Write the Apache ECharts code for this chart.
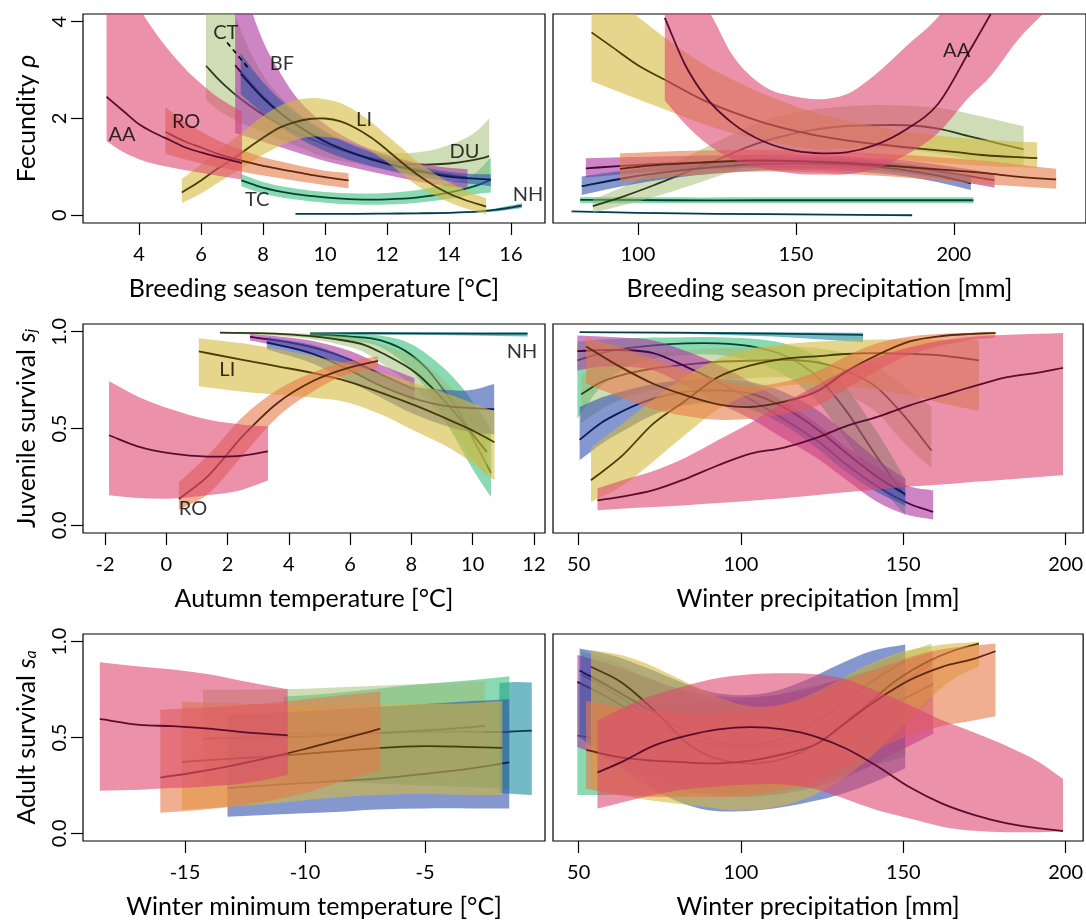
<!DOCTYPE html>
<html>
<head>
<meta charset="utf-8">
<title>Vital rates vs climate</title>
<script src="https://cdn.jsdelivr.net/npm/echarts@6/dist/echarts.min.js"></script>
<style>
  html, body { margin: 0; padding: 0; background: #ffffff; }
  #chart { width: 1086px; height: 920px; }
</style>
</head>
<body>
<div id="chart"></div>
<script>
// Each row: [covariate value, posterior mean, lower bound, upper bound]

// ---- Fecundity vs breeding season temperature ----
const btTicks = [4, 6, 8, 10, 12, 14, 16];
const btAA = [[2.95,2.45,1.53,6.0],[3.5,2.15,1.3,5.0],[4.0,1.88,1.16,4.3],[4.5,1.7,1.06,3.8],[5.0,1.55,0.99,3.38],[5.5,1.4,0.93,3.02],[6.0,1.3,0.88,2.72],[6.5,1.21,0.82,2.46],[7.0,1.13,0.77,2.26],[7.32,1.08,0.74,2.14]];
const btRO = [[4.85,1.72,1.27,2.23],[5.5,1.52,1.15,1.92],[6.0,1.4,1.07,1.73],[6.5,1.28,1.0,1.56],[7.0,1.18,0.94,1.42],[7.5,1.1,0.88,1.31],[8.0,1.02,0.82,1.2],[8.5,0.96,0.77,1.12],[9.0,0.9,0.72,1.05],[9.5,0.84,0.67,0.98],[10.0,0.79,0.62,0.92],[10.76,0.72,0.56,0.87]];
const btCT = [[7.28,2.92,2.5,3.35],[8,2.42,2.1,2.75],[9,1.9,1.65,2.15],[10,1.52,1.33,1.72],[11,1.26,1.1,1.42],[12,1.06,0.93,1.2],[13,0.91,0.8,1.02],[14,0.8,0.7,0.9],[15,0.75,0.63,0.85],[15.35,0.74,0.6,0.85]];
const btBF = [[7.1,3.1,1.7,5.5],[7.5,2.8,1.62,4.5],[8,2.45,1.52,3.6],[8.5,2.15,1.42,3.0],[9,1.9,1.32,2.5],[9.5,1.7,1.22,2.15],[10,1.53,1.12,1.88],[11,1.27,0.97,1.5],[12,1.08,0.83,1.25],[13,0.94,0.7,1.08],[14,0.83,0.6,0.98],[14.6,0.78,0.56,0.95]];
const btDU = [[6.16,3.09,2.38,6.0],[6.5,2.85,2.2,5.2],[7,2.55,2.0,4.3],[7.5,2.3,1.85,3.5],[8,2.08,1.72,2.9],[9,1.73,1.45,2.2],[10,1.46,1.2,1.75],[11,1.26,1.07,1.45],[12,1.12,0.95,1.3],[13,1.05,0.87,1.3],[14,1.07,0.82,1.45],[15,1.17,0.8,1.8],[15.3,1.22,0.78,2.0]];
const btLI = [[5.38,0.47,0.25,0.75],[6,0.72,0.45,1.05],[6.5,0.95,0.65,1.3],[7,1.15,0.85,1.55],[7.5,1.38,1.05,1.8],[8,1.6,1.25,2.05],[8.5,1.8,1.42,2.25],[9,1.92,1.55,2.37],[9.5,1.99,1.62,2.42],[10,2.0,1.62,2.4],[10.5,1.94,1.58,2.32],[11,1.8,1.48,2.15],[11.5,1.6,1.32,1.92],[12,1.35,1.1,1.65],[12.5,1.08,0.85,1.38],[13,0.83,0.6,1.1],[13.5,0.62,0.42,0.88],[14,0.45,0.27,0.68],[14.5,0.32,0.15,0.52],[15.2,0.18,0.02,0.35]];
const btTC = [[7.3,0.72,0.6,0.85],[8,0.57,0.45,0.69],[9,0.44,0.33,0.56],[10,0.37,0.26,0.48],[11,0.33,0.22,0.45],[12,0.33,0.22,0.46],[13,0.37,0.26,0.52],[14,0.47,0.34,0.66],[15,0.64,0.45,0.95],[15.35,0.73,0.47,1.2]];
const btNH = [[9.05,0.03,0.02,0.04],[10,0.03,0.02,0.04],[11,0.03,0.02,0.04],[12,0.035,0.025,0.045],[13,0.04,0.03,0.05],[14,0.05,0.035,0.065],[15,0.08,0.06,0.1],[15.5,0.11,0.08,0.14],[16,0.16,0.12,0.2],[16.35,0.2,0.15,0.25]];
const btLabels = [[3.45,1.67,'AA'],[5.52,1.94,'RO'],[6.8,3.77,'CT'],[8.61,3.13,'BF'],[11.26,1.98,'LI'],[14.5,1.32,'DU'],[7.81,0.33,'TC'],[16.55,0.43,'NH']];
const btLeader = [[6.84,3.57],[7.53,3.04]];

// ---- Fecundity vs breeding season precipitation ----
const bpTicks = [100, 150, 200];
const bpAA = [[108.5,4.08,2.37,5.0],[115,3.1,1.88,4.6],[122,2.4,1.47,4.25],[130,1.9,1.15,3.3],[140,1.52,0.96,2.66],[150,1.33,0.86,2.45],[158,1.28,0.84,2.4],[166,1.3,0.85,2.5],[175,1.45,0.95,2.9],[185,1.78,1.25,3.5],[195,2.3,1.7,4.1],[205,3.4,2.45,5.0],[212,4.2,2.9,6.0],[220,5.2,3.6,7.0],[232,7.0,4.4,9.0]];
const bpLI = [[85.3,3.78,2.77,4.9],[92,3.47,2.6,4.5],[100,3.1,2.4,4.1],[110,2.75,2.15,3.6],[120,2.4,1.9,3.15],[130,2.13,1.7,2.8],[140,1.91,1.55,2.5],[150,1.74,1.42,2.25],[160,1.61,1.32,2.05],[170,1.51,1.24,1.9],[180,1.44,1.17,1.78],[190,1.37,1.11,1.68],[200,1.31,1.06,1.62],[210,1.24,1.02,1.56],[220,1.2,0.99,1.52],[226.4,1.18,0.98,1.51]];
const bpDU = [[85.7,0.19,0.05,0.33],[95,0.38,0.2,0.58],[105,0.62,0.38,0.88],[115,0.88,0.58,1.2],[125,1.14,0.8,1.52],[135,1.42,1.02,1.82],[145,1.62,1.2,2.05],[155,1.76,1.32,2.18],[165,1.84,1.38,2.25],[175,1.86,1.4,2.28],[185,1.86,1.36,2.27],[195,1.79,1.28,2.22],[205,1.63,1.15,2.1],[215,1.47,1.07,1.95],[222.1,1.36,1.03,1.84]];
const bpRO = [[94.3,0.96,0.68,1.28],[105,1.03,0.76,1.31],[120,1.09,0.84,1.34],[135,1.13,0.9,1.35],[150,1.12,0.9,1.34],[165,1.08,0.86,1.31],[180,1.02,0.8,1.26],[195,0.95,0.72,1.2],[210,0.87,0.64,1.12],[220,0.8,0.6,1.05],[232.4,0.74,0.55,0.96]];
const bpBF = [[83.5,0.97,0.78,1.18],[95,1.02,0.85,1.2],[110,1.07,0.92,1.22],[125,1.1,0.96,1.24],[140,1.12,0.98,1.25],[155,1.12,0.98,1.24],[170,1.09,0.95,1.21],[185,1.0,0.86,1.13],[200,0.86,0.72,1.0],[212.9,0.72,0.57,0.87]];
const bpCT = [[82.2,0.6,0.42,0.8],[95,0.76,0.6,0.92],[110,0.9,0.76,1.04],[125,1.0,0.87,1.13],[140,1.06,0.93,1.18],[155,1.07,0.94,1.19],[170,1.03,0.9,1.16],[185,0.93,0.8,1.06],[195,0.82,0.68,0.96],[205.4,0.66,0.52,0.8]];
const bpTC = [[81.7,0.32,0.25,0.38],[110,0.31,0.25,0.37],[140,0.31,0.25,0.37],[170,0.31,0.25,0.37],[206.2,0.31,0.25,0.37]];
const bpNH = [[79,0.08,0.07,0.09],[100,0.05,0.04,0.06],[125,0.03,0.02,0.04],[150,0.02,0.01,0.03],[170,0.01,0.0,0.02],[186.8,0.0,-0.01,0.01]];
const bpLabels = [[200.9,3.4,'AA']];

// ---- Juvenile survival vs autumn temperature ----
const atTicks = [-2, 0, 2, 4, 6, 8, 10, 12];
const atAA = [[-1.87,0.465,0.155,0.744],[-0.94,0.408,0.141,0.666],[0.21,0.37,0.138,0.597],[1.35,0.355,0.155,0.546],[2.49,0.36,0.184,0.52],[3.32,0.382,0.231,0.511]];
const atRO = [[0.41,0.136,0.08,0.222],[1.35,0.253,0.16,0.36],[2.49,0.46,0.36,0.56],[3.63,0.632,0.56,0.7],[4.77,0.744,0.69,0.79],[5.91,0.812,0.78,0.845],[6.91,0.85,0.81,0.873]];
const atLI = [[1.06,0.898,0.718,0.967],[2.49,0.855,0.69,0.94],[3.63,0.821,0.675,0.91],[4.77,0.787,0.66,0.875],[5.91,0.744,0.635,0.835],[7.05,0.683,0.57,0.785],[8.2,0.614,0.48,0.73],[9.34,0.537,0.39,0.67],[10.0,0.49,0.32,0.63],[10.71,0.429,0.232,0.59]];
const atNH = [[4.69,0.992,0.988,0.995],[8,0.992,0.985,0.996],[11.79,0.99,0.976,0.998]];
const atTC = [[4.7,0.985,0.97,0.995],[6,0.975,0.955,0.99],[7,0.955,0.92,0.98],[8,0.88,0.8,0.935],[8.5,0.81,0.7,0.885],[9,0.71,0.57,0.82],[9.5,0.6,0.43,0.74],[10,0.45,0.29,0.64],[10.6,0.27,0.145,0.5]];
const atDU = [[1.75,0.995,0.99,0.998],[3.5,0.99,0.98,0.996],[5.46,0.963,0.94,0.98],[6.5,0.93,0.89,0.96],[7.09,0.886,0.83,0.93],[8.18,0.783,0.7,0.86],[9.26,0.611,0.5,0.72],[10.46,0.379,0.25,0.52]];
const atCT = [[3.28,0.945,0.91,0.972],[4.8,0.885,0.835,0.93],[6.0,0.8,0.74,0.86],[7.0,0.72,0.66,0.78],[8.0,0.66,0.58,0.72],[9.0,0.62,0.52,0.7],[10.0,0.605,0.48,0.7],[10.7,0.6,0.47,0.73]];
const atBF = [[2.73,0.973,0.955,0.99],[4,0.945,0.915,0.97],[5,0.91,0.87,0.945],[6,0.855,0.8,0.9],[7,0.78,0.72,0.83],[8.1,0.7,0.64,0.76]];
const atLabels = [[1.99,0.804,'LI'],[0.87,0.088,'RO'],[11.61,0.90,'NH']];

// ---- Juvenile survival vs winter precipitation ----
const wpTicks = [50, 100, 150, 200];
const wjNH = [[50.3,0.998,0.996,0.999],[80,0.995,0.99,0.999],[110,0.99,0.975,0.998],[137.6,0.984,0.946,0.995]];
const wjAA = [[55.8,0.129,0.078,0.19],[63,0.147,0.085,0.23],[73,0.181,0.094,0.28],[83,0.24,0.104,0.35],[93,0.31,0.115,0.44],[103,0.37,0.127,0.53],[113,0.4,0.14,0.63],[123,0.45,0.155,0.72],[132,0.51,0.17,0.8],[142,0.56,0.185,0.87],[152,0.62,0.2,0.92],[162,0.67,0.21,0.955],[172,0.72,0.225,0.975],[182,0.765,0.237,0.985],[192,0.79,0.25,0.99],[199.2,0.813,0.258,0.994]];
const wjRO = [[52.3,0.924,0.731,0.972],[63,0.817,0.66,0.92],[73,0.731,0.6,0.86],[83,0.671,0.565,0.8],[93,0.625,0.545,0.75],[103,0.611,0.55,0.72],[113,0.637,0.575,0.74],[124,0.697,0.62,0.8],[132,0.79,0.7,0.87],[142,0.88,0.8,0.94],[152,0.95,0.88,0.975],[162,0.978,0.93,0.99],[170,0.988,0.955,0.995],[178.4,0.994,0.97,0.998]];
const wjLI = [[53.8,0.233,0.12,0.4],[63,0.353,0.2,0.52],[73,0.525,0.33,0.65],[83,0.645,0.47,0.77],[93,0.766,0.6,0.86],[103,0.826,0.68,0.91],[113,0.86,0.72,0.935],[124,0.874,0.73,0.95],[132,0.885,0.72,0.955],[142,0.89,0.7,0.96],[152,0.886,0.67,0.96],[162,0.877,0.63,0.958],[173.3,0.852,0.59,0.955]];
const wjCT = [[50.3,0.442,0.336,0.611],[57,0.53,0.42,0.66],[63,0.585,0.48,0.69],[73,0.654,0.57,0.73],[83,0.689,0.62,0.75],[93,0.697,0.63,0.755],[103,0.68,0.6,0.74],[113,0.611,0.52,0.69],[124,0.49,0.39,0.59],[132,0.38,0.28,0.48],[142,0.25,0.17,0.34],[150.6,0.16,0.1,0.24]];
const wjBF = [[49.6,0.9,0.8,0.98],[57,0.905,0.82,0.975],[63,0.905,0.82,0.97],[73,0.89,0.8,0.955],[83,0.82,0.72,0.9],[93,0.74,0.63,0.83],[103,0.65,0.55,0.74],[113,0.55,0.45,0.64],[124,0.43,0.34,0.52],[132,0.32,0.24,0.41],[142,0.2,0.12,0.3],[152,0.11,0.05,0.2],[159.2,0.069,0.03,0.18]];
const wjTC = [[49.6,0.852,0.55,0.95],[57,0.89,0.72,0.96],[63,0.91,0.8,0.965],[73,0.93,0.86,0.97],[83,0.94,0.88,0.972],[93,0.94,0.88,0.972],[103,0.925,0.85,0.965],[113,0.88,0.78,0.94],[124,0.76,0.63,0.86],[132,0.6,0.45,0.72],[142,0.35,0.22,0.48],[150.6,0.15,0.05,0.24]];
const wjDU = [[50.8,0.677,0.53,0.78],[57,0.74,0.6,0.83],[63,0.775,0.65,0.86],[73,0.81,0.7,0.89],[83,0.83,0.73,0.905],[93,0.845,0.75,0.915],[103,0.85,0.76,0.92],[113,0.855,0.765,0.925],[124,0.84,0.74,0.915],[132,0.8,0.68,0.89],[142,0.71,0.58,0.82],[150,0.57,0.43,0.72],[158.7,0.386,0.292,0.611]];

// ---- Adult survival vs winter minimum temperature ----
const wtTicks = [-15, -10, -5];
const wtAA = [[-18.55,0.597,0.222,0.893],[-16.9,0.566,0.228,0.87],[-15.5,0.559,0.236,0.855],[-14.0,0.546,0.245,0.83],[-12.6,0.528,0.26,0.795],[-10.72,0.511,0.305,0.752]];
const wtRO = [[-16.03,0.291,0.107,0.645],[-14.5,0.32,0.12,0.655],[-13,0.355,0.14,0.665],[-11.5,0.395,0.17,0.68],[-10,0.44,0.21,0.7],[-8.5,0.49,0.27,0.72],[-6.86,0.546,0.33,0.74]];
const wtLI = [[-15.13,0.373,0.124,0.687],[-13,0.39,0.14,0.68],[-11,0.405,0.16,0.67],[-9,0.425,0.185,0.67],[-7,0.445,0.2,0.672],[-5,0.455,0.205,0.675],[-3,0.45,0.2,0.68],[-1.78,0.446,0.2,0.69]];
const wtDU = [[-14.25,0.494,0.253,0.749],[-12,0.5,0.26,0.75],[-10,0.505,0.27,0.755],[-8,0.515,0.28,0.765],[-6,0.53,0.29,0.775],[-4,0.545,0.295,0.785],[-2.5,0.56,0.3,0.795]];
const wtCT = [[-13.23,0.236,0.086,0.62],[-11,0.255,0.1,0.63],[-9,0.27,0.11,0.645],[-7,0.285,0.125,0.66],[-5,0.31,0.13,0.675],[-3,0.34,0.13,0.69],[-1.49,0.37,0.129,0.7]];
const wtTC = [[-10.9,0.52,0.27,0.714],[-9,0.52,0.27,0.73],[-7,0.525,0.26,0.755],[-5,0.53,0.25,0.78],[-3,0.53,0.24,0.8],[-1.49,0.528,0.23,0.82]];
const wtNH = [[-1.9,0.528,0.21,0.785],[-1.3,0.532,0.205,0.79],[-0.55,0.536,0.2,0.787]];

// ---- Adult survival vs winter precipitation ----
const waAA = [[55.8,0.318,0.129,0.588],[63,0.37,0.16,0.65],[73,0.456,0.2,0.72],[83,0.508,0.23,0.77],[93,0.542,0.245,0.81],[103,0.554,0.255,0.83],[113,0.542,0.255,0.835],[123,0.505,0.23,0.83],[132,0.445,0.18,0.805],[142,0.35,0.12,0.74],[152,0.24,0.077,0.67],[162,0.155,0.035,0.59],[172,0.095,0.013,0.525],[182,0.052,0.006,0.455],[192,0.026,0.006,0.37],[199.2,0.012,0.009,0.284]];
const waRO = [[52.3,0.435,0.233,0.69],[63,0.396,0.2,0.66],[73,0.379,0.19,0.64],[83,0.37,0.19,0.63],[93,0.365,0.19,0.63],[103,0.379,0.2,0.64],[113,0.413,0.23,0.67],[124,0.473,0.28,0.72],[132,0.575,0.35,0.79],[142,0.697,0.44,0.86],[152,0.8,0.51,0.92],[162,0.869,0.56,0.96],[172,0.912,0.59,0.98],[178.4,0.95,0.611,0.99]];
const waLI = [[53.8,0.869,0.24,0.955],[63,0.79,0.2,0.93],[73,0.645,0.17,0.87],[78,0.56,0.16,0.83],[83,0.475,0.15,0.79],[88,0.42,0.14,0.75],[98,0.37,0.12,0.68],[108,0.37,0.13,0.66],[118,0.42,0.17,0.7],[128,0.52,0.25,0.78],[138,0.66,0.37,0.87],[148,0.8,0.53,0.94],[158,0.9,0.7,0.975],[165,0.95,0.8,0.99],[173.3,0.99,0.87,0.998]];
const waCT = [[50.3,0.85,0.5,0.965],[60,0.76,0.38,0.93],[70,0.66,0.26,0.87],[80,0.56,0.17,0.8],[90,0.49,0.12,0.74],[100,0.46,0.115,0.72],[110,0.48,0.13,0.74],[120,0.55,0.16,0.8],[130,0.66,0.2,0.88],[140,0.79,0.26,0.95],[150.6,0.9,0.34,0.985]];
const waTC = [[49.6,0.51,0.2,0.79],[60,0.48,0.2,0.75],[70,0.46,0.2,0.72],[80,0.45,0.2,0.7],[90,0.45,0.21,0.69],[100,0.46,0.22,0.7],[110,0.48,0.24,0.72],[120,0.51,0.26,0.76],[130,0.55,0.3,0.8],[140,0.6,0.35,0.85],[150.6,0.65,0.4,0.9]];
const waDU = [[50.8,0.83,0.55,0.95],[60,0.74,0.45,0.9],[70,0.63,0.35,0.82],[80,0.53,0.27,0.75],[90,0.47,0.22,0.7],[100,0.44,0.2,0.68],[110,0.45,0.21,0.69],[120,0.5,0.25,0.73],[130,0.58,0.32,0.8],[140,0.68,0.42,0.88],[150,0.79,0.55,0.94],[158.7,0.89,0.7,0.99]];
const waBF = [[49.6,0.79,0.45,0.93],[60,0.7,0.38,0.88],[70,0.6,0.3,0.82],[80,0.52,0.24,0.76],[90,0.47,0.2,0.72],[100,0.45,0.19,0.71],[110,0.46,0.2,0.72],[120,0.5,0.23,0.75],[130,0.56,0.28,0.8],[140,0.63,0.35,0.85],[150,0.7,0.44,0.9],[159.2,0.78,0.52,0.95]];

const fecTicks = [0, 2, 4];
const survTicks = [0, 0.5, 1];

// Populations in drawing order (later ones sit on top)
const popOrder = ['NH', 'TC', 'DU', 'BF', 'CT', 'LI', 'RO', 'AA'];
const bandFill = {
  AA: 'rgba(222,72,112,0.6)', RO: 'rgba(232,122,72,0.6)', CT: 'rgba(52,82,175,0.6)',
  BF: 'rgba(172,52,160,0.6)', LI: 'rgba(212,186,62,0.6)', DU: 'rgba(160,188,112,0.5)',
  TC: 'rgba(40,185,115,0.55)', NH: 'rgba(22,140,160,0.6)'
};
const lineColor = {
  AA: '#5a0c2e', RO: '#5c2a0e', CT: '#0c1a52', BF: '#44063e',
  LI: '#4a3c06', DU: '#2c3a18', TC: '#05422f', NH: '#053e4a'
};

const FONT = 'Lato, "Noto Sans", sans-serif';

const panels = [
  { rows: { NH: btNH, TC: btTC, DU: btDU, LI: btLI, BF: btBF, CT: btCT, RO: btRO, AA: btAA }, labels: btLabels },
  { rows: { NH: bpNH, TC: bpTC, DU: bpDU, LI: bpLI, BF: bpBF, CT: bpCT, RO: bpRO, AA: bpAA }, labels: bpLabels },
  { rows: { NH: atNH, TC: atTC, DU: atDU, LI: atLI, BF: atBF, CT: atCT, RO: atRO, AA: atAA }, labels: atLabels },
  { rows: { NH: wjNH, TC: wjTC, DU: wjDU, LI: wjLI, BF: wjBF, CT: wjCT, RO: wjRO, AA: wjAA }, labels: [] },
  { rows: { NH: wtNH, TC: wtTC, DU: wtDU, LI: wtLI, CT: wtCT, RO: wtRO, AA: wtAA }, labels: [] },
  { rows: { TC: waTC, DU: waDU, LI: waLI, BF: waBF, CT: waCT, RO: waRO, AA: waAA }, labels: [] }
];

// Plot regions: two columns, three rows
const gridBoxes = [
  { left: 83, top: 14 }, { left: 553, top: 14 },
  { left: 83, top: 324 }, { left: 553, top: 324 },
  { left: 83, top: 634 }, { left: 553, top: 634 }
];
const grids = gridBoxes.map((g, i) => ({
  left: g.left, top: g.top, width: i % 2 === 0 ? 462 : 540, height: 209,
  show: true, borderColor: '#000', borderWidth: 1.2, backgroundColor: 'transparent'
}));

const xSpecs = [
  { min: 2.19, max: 17.1, ticks: btTicks, name: 'Breeding season temperature [°C]' },
  { min: 73.1, max: 241.85, ticks: bpTicks, name: 'Breeding season precipitation [mm]' },
  { min: -2.72, max: 12.36, ticks: atTicks, name: 'Autumn temperature [°C]' },
  { min: 42.1, max: 205.4, ticks: wpTicks, name: 'Winter precipitation [mm]' },
  { min: -19.25, max: 0, ticks: wtTicks, name: 'Winter minimum temperature [°C]' },
  { min: 42.1, max: 205.4, ticks: wpTicks, name: 'Winter precipitation [mm]' }
];
const yNames = ['Fecundity {it|ρ}', 'Juvenile survival {it|s}{sub|j}', 'Adult survival {it|s}{sub|a}'];

const xAxes = xSpecs.map((s, i) => ({
  type: 'value', gridIndex: i, min: s.min, max: s.max, position: 'bottom',
  axisLine: { show: false, onZero: false },
  splitLine: { show: false },
  axisTick: { show: true, length: 12, customValues: s.ticks, lineStyle: { color: '#000', width: 1.2 } },
  axisLabel: { customValues: s.ticks, margin: 22, color: '#000', fontSize: 20, fontFamily: FONT },
  name: s.name, nameLocation: 'middle', nameGap: 53,
  nameTextStyle: { color: '#000', fontSize: 25, fontFamily: FONT }
}));

const yAxes = xSpecs.map((s, i) => {
  const fec = i < 2;
  const left = i % 2 === 0;
  const ticks = fec ? fecTicks : survTicks;
  const base = {
    type: 'value', gridIndex: i, position: 'left',
    min: fec ? -0.16 : -0.04, max: fec ? 4.16 : 1.04,
    axisLine: { show: false, onZero: false },
    splitLine: { show: false }
  };
  if (!left) {
    return Object.assign(base, { axisTick: { show: false }, axisLabel: { show: false } });
  }
  return Object.assign(base, {
    axisTick: { show: true, length: 12, customValues: ticks, lineStyle: { color: '#000', width: 1.2 } },
    axisLabel: {
      customValues: ticks, rotate: 90, margin: 13, color: '#000', fontSize: 20, fontFamily: FONT,
      formatter: v => fec ? String(v) : v.toFixed(1)
    },
    name: yNames[Math.floor(i / 2)],
    nameLocation: 'middle', nameRotate: 90, nameGap: 44,
    nameTextStyle: {
      color: '#000', fontSize: 25, fontFamily: FONT,
      rich: {
        it: { fontSize: 25, fontStyle: 'italic', fontFamily: FONT, color: '#000' },
        sub: { fontSize: 16, fontStyle: 'italic', fontFamily: FONT, color: '#000', verticalAlign: 'bottom', lineHeight: 14 }
      }
    }
  });
});

// Smooth cubic path through pixel points (Hermite tangents, x-ordered)
function smoothSegments(pts) {
  const n = pts.length;
  const slope = (a, b) => (b[1] - a[1]) / (b[0] - a[0]);
  const m = pts.map((p, i) => {
    if (i === 0) return slope(p, pts[1]);
    if (i === n - 1) return slope(pts[i - 1], p);
    const a = pts[i - 1], b = pts[i + 1];
    const s0 = slope(a, p), s1 = slope(p, b);
    return (s0 * (b[0] - p[0]) + s1 * (p[0] - a[0])) / (b[0] - a[0]);
  });
  let d = '';
  for (let i = 0; i < n - 1; i++) {
    const p0 = pts[i], p1 = pts[i + 1];
    const dx = (p1[0] - p0[0]) / 3;
    d += ' C' + (p0[0] + dx) + ',' + (p0[1] + m[i] * dx) + ' ' +
         (p1[0] - dx) + ',' + (p1[1] - m[i + 1] * dx) + ' ' + p1[0] + ',' + p1[1];
  }
  return d;
}

// Credible band plus posterior-mean curve for one population
function popRenderer(rows, fill, stroke) {
  return function (params, api) {
    if (params.dataIndex !== 0) return null;
    const upper = rows.map(r => api.coord([r[0], r[3]]));
    const lower = rows.map(r => api.coord([r[0], r[2]])).reverse();
    const mean = rows.map(r => api.coord([r[0], r[1]]));
    const band = 'M' + upper[0][0] + ',' + upper[0][1] + smoothSegments(upper) +
                 ' L' + lower[0][0] + ',' + lower[0][1] + smoothSegments(lower) + ' Z';
    const line = 'M' + mean[0][0] + ',' + mean[0][1] + smoothSegments(mean);
    return {
      type: 'group',
      children: [
        { type: 'path', shape: { pathData: band }, style: { fill: fill, stroke: null } },
        { type: 'path', shape: { pathData: line }, style: { fill: 'none', stroke: stroke, lineWidth: 1.8 } }
      ]
    };
  };
}

const series = [];
panels.forEach((p, i) => {
  popOrder.forEach(pop => {
    const rows = p.rows[pop];
    if (!rows) return;
    series.push({
      type: 'custom', name: pop, xAxisIndex: i, yAxisIndex: i, clip: true, silent: true,
      data: rows.map(r => [r[0], r[1], r[2], r[3]]),
      encode: { x: 0, y: [1, 2, 3] },
      renderItem: popRenderer(rows, bandFill[pop], lineColor[pop])
    });
  });
  if (p.labels.length) {
    series.push({
      type: 'scatter', xAxisIndex: i, yAxisIndex: i, silent: true,
      symbolSize: 1, itemStyle: { color: 'rgba(0,0,0,0)' },
      data: p.labels.map(l => ({ value: [l[0], l[1]], name: l[2] })),
      label: { show: true, position: 'inside', formatter: '{b}', color: '#000', fontSize: 20, fontFamily: FONT }
    });
  }
});
// leader line from the CT label
series.push({
  type: 'line', xAxisIndex: 0, yAxisIndex: 0, silent: true, symbol: 'none',
  data: btLeader, lineStyle: { color: '#000', width: 1.6, type: [5, 4] }
});

const chart = echarts.init(document.getElementById('chart'), null, { renderer: 'canvas' });
chart.setOption({
  animation: false,
  backgroundColor: '#ffffff',
  grid: grids,
  xAxis: xAxes,
  yAxis: yAxes,
  series: series
});
</script>
</body>
</html>
